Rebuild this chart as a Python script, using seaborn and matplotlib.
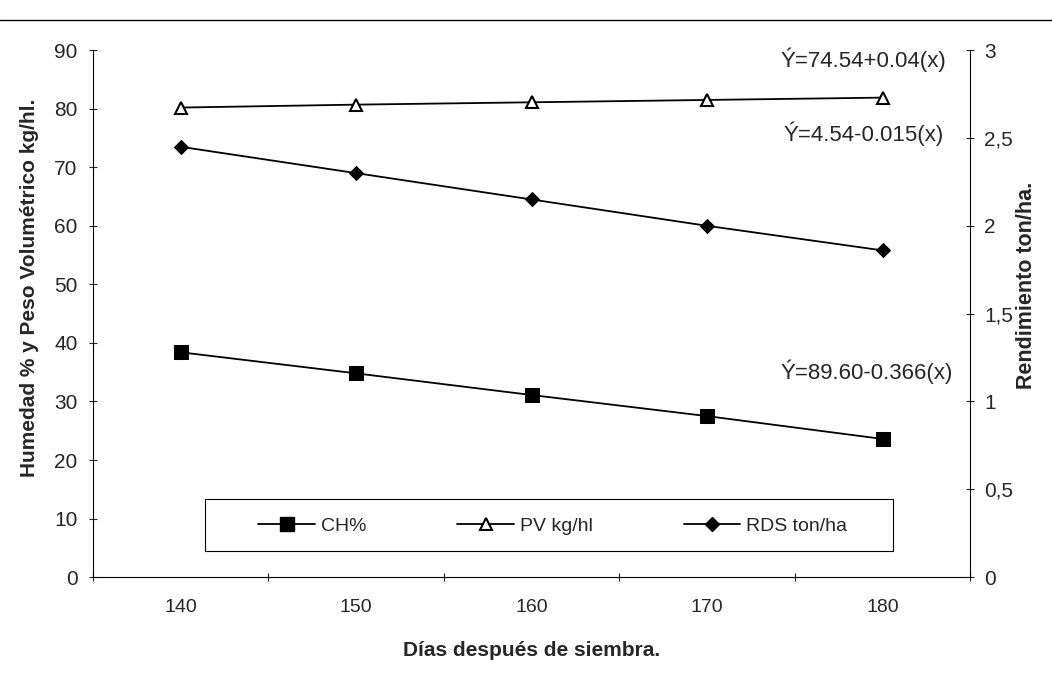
import matplotlib
matplotlib.use("Agg")
import matplotlib.pyplot as plt
import seaborn as sns
import pandas as pd
from matplotlib.lines import Line2D
from matplotlib.patches import Rectangle

dias = [140, 150, 160, 170, 180]
ch = [38.4, 34.8, 31.1, 27.5, 23.6]
pv = [80.2, 80.7, 81.1, 81.5, 81.9]
rds = [2.45, 2.30, 2.15, 2.00, 1.86]

series_labels = ["CH%", "PV kg/hl", "RDS ton/ha"]
eq_labels = ["Ý=74.54+0.04(x)", "Ý=4.54-0.015(x)", "Ý=89.60-0.366(x)"]
left_ticks = [0, 10, 20, 30, 40, 50, 60, 70, 80, 90]
right_ticks = [0, 0.5, 1, 1.5, 2, 2.5, 3]
right_ticklabels = ["0", "0,5", "1", "1,5", "2", "2,5", "3"]

sns.set_style("ticks")
plt.rcParams['font.family'] = ['Liberation Sans', 'DejaVu Sans']

fig = plt.figure(figsize=(10.52, 6.97), dpi=100)
ax = fig.add_axes([0.0884, 0.172, 0.834, 0.756])
ax2 = ax.twinx()

df = pd.DataFrame({"dias": dias, "ch": ch, "pv": pv, "rds": rds})

sq = dict(marker="s", markersize=9.5, markerfacecolor="black", markeredgecolor="black")
tri = dict(marker="^", markersize=8, markerfacecolor="white", markeredgecolor="black", markeredgewidth=1.5)
dia = dict(marker="D", markersize=7.5, markerfacecolor="black", markeredgecolor="black")

sns.lineplot(data=df, x="dias", y="ch", ax=ax, color="black", lw=1.3, **sq)
sns.lineplot(data=df, x="dias", y="pv", ax=ax, color="black", lw=1.3, **tri)
sns.lineplot(data=df, x="dias", y="rds", ax=ax2, color="black", lw=1.3, **dia)

ax.set_xlim(135, 185)
ax.set_ylim(0, 90)
ax2.set_ylim(0, 3)
ax.set_xticks(dias)
ax.set_xticks([135, 145, 155, 165, 175, 185], minor=True)
ax.tick_params(axis='x', which='major', length=0, labelsize=14, pad=16)
ax.tick_params(axis='x', which='minor', length=6, direction='inout', width=0.8)
ax.set_yticks(left_ticks)
ax.tick_params(axis='y', which='major', length=6, direction='inout', labelsize=15, width=0.8, pad=8)
ax2.set_yticks(right_ticks)
ax2.set_yticklabels(right_ticklabels)
ax2.tick_params(axis='y', length=6, direction='inout', labelsize=15, width=0.8, pad=7)

for a in (ax, ax2):
    a.spines['top'].set_visible(False)
    for s in ('left', 'right', 'bottom'):
        a.spines[s].set_linewidth(0.8)
        a.spines[s].set_color('black')
ax.spines['right'].set_visible(False)
ax2.spines['left'].set_visible(False)
ax2.spines['bottom'].set_visible(False)

ax.set_xlabel("Días después de siembra.", fontsize=15, fontweight='bold', labelpad=18)
ax.set_ylabel("Humedad % y Peso Volumétrico kg/hl.", fontsize=15, fontweight='bold')
ax.yaxis.set_label_coords(-0.062, 0.548)
ax2.set_ylabel("Rendimiento ton/ha.", fontsize=15.5, fontweight='bold')
ax2.yaxis.set_label_coords(1.052, 0.554)

ax.text(183.6, 88.3, eq_labels[0], ha='right', va='center', fontsize=16)
ax.text(183.5, 75.8, eq_labels[1], ha='right', va='center', fontsize=16)
ax.text(184.0, 35.0, eq_labels[2], ha='right', va='center', fontsize=16)

handles = [
    Line2D([], [], color='black', lw=1.3, **sq),
    Line2D([], [], color='black', lw=1.3, **tri),
    Line2D([], [], color='black', lw=1.3, **dia),
]
ax.add_patch(Rectangle((0.1277, 0.0493), 0.7845, 0.0987, transform=ax.transAxes,
                       facecolor='white', edgecolor='black', lw=0.8, zorder=3))
leg = ax.legend(handles, series_labels, ncol=3, loc='center',
                bbox_to_anchor=(0.524, 0.097), frameon=False, fontsize=14,
                handlelength=2.9, handletextpad=0.3, columnspacing=4.7)
leg.set_zorder(4)

fig.add_artist(Line2D([0.0, 1.0], [1 - 20 / 697, 1 - 20 / 697], color='black', lw=1.0,
                      transform=fig.transFigure))

fig.savefig("out.png", dpi=100, facecolor='white')
